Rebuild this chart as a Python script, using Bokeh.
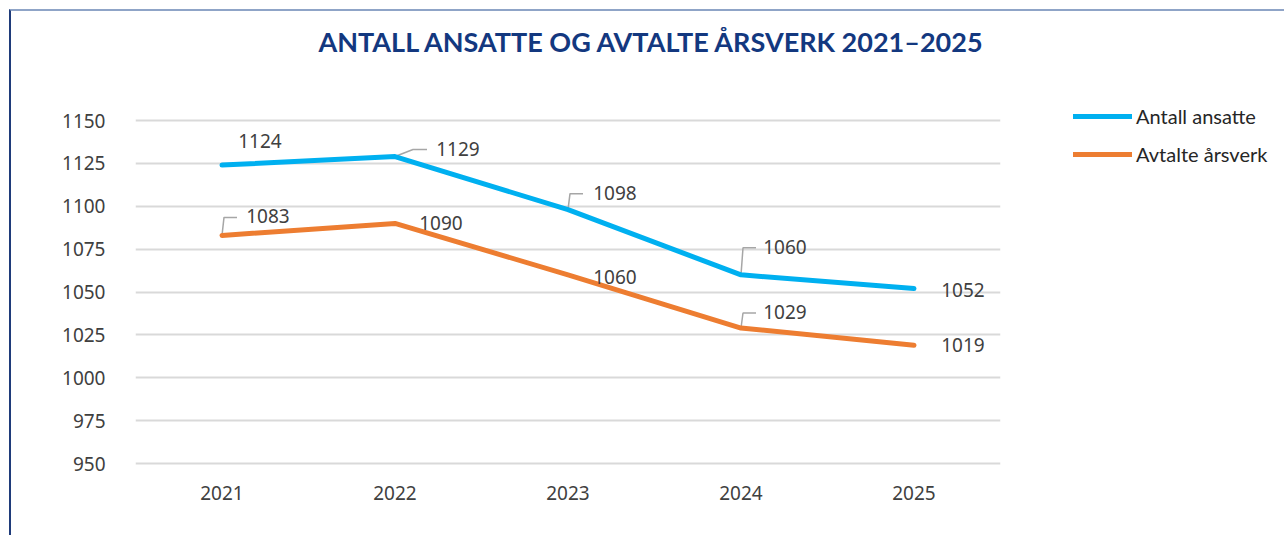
from bokeh.plotting import figure
from bokeh.models import (ColumnDataSource, FixedTicker, Range1d, Legend, LegendItem,
                          LabelSet, Title)
from bokeh.core.properties import value
from bokeh.embed import file_html
from bokeh.resources import INLINE

# ---- data ----
years = ["2021", "2022", "2023", "2024", "2025"]
ansatte = [1124, 1129, 1098, 1060, 1052]
arsverk = [1083, 1090, 1060, 1029, 1019]
y_ticks = [950, 975, 1000, 1025, 1050, 1075, 1100, 1125, 1150]

# label offsets (px) and leader flags (style, not data)
ans_dx = [38, 63, 47, 44, 49]
ans_dy = [24, 8, 17, 28, -1]
ans_lead = [False, True, True, True, False]
arb_dx = [46, 46, 47, 44, 49]
arb_dy = [19, 0, -2, 16, 0]
arb_lead = [True, False, False, True, False]

OFF = 11                      # page margin + border
Y0, Y1 = 950, 1150
PX_Y = 343 / (Y1 - Y0)
PAD = 4 / PX_Y
FL, FT, FW, FH = 135 - OFF, 116 - OFF, 865, 351
xs = list(range(len(years)))
PX_X = FW / 5.0

p = figure(frame_width=FW, frame_height=FH, output_backend="svg", toolbar_location=None,
           x_range=Range1d(-0.5, 4.5), y_range=Range1d(Y0 - PAD, Y1 + PAD),
           min_border_left=FL, min_border_top=FT,
           min_border_right=265, min_border_bottom=68)
p.styles = {"border-left": "2px solid #1f3b7a", "border-top": "2px solid #8fa4c7",
            "margin-left": "9px", "margin-top": "9px"}
p.outline_line_color = None
p.background_fill_color = "white"
p.border_fill_color = "white"

# spacer between frame and title
p.add_layout(Title(text=" ", text_font_size="1px", standoff=56), "above")

p.title.text = "ANTALL ANSATTE OG AVTALTE ÅRSVERK 2021–2025"
p.title.align = "left"
p.title.offset = 183
p.title.vertical_align = "bottom"
p.title.standoff = 0
p.title.text_font = "Lato"
p.title.text_font_style = "bold"
p.title.text_font_size = "27px"
p.title.text_color = "#13387f"

p.xgrid.grid_line_color = None
p.ygrid.grid_line_color = "#d9d9d9"
p.ygrid.grid_line_width = 2
p.yaxis.ticker = FixedTicker(ticks=y_ticks)
p.xaxis.ticker = FixedTicker(ticks=xs)
p.xaxis.major_label_overrides = {i: y for i, y in enumerate(years)}
for ax in (p.xaxis[0], p.yaxis[0]):
    ax.axis_line_color = None
    ax.major_tick_line_color = None
    ax.minor_tick_line_color = None
    ax.major_label_text_font = "Noto Sans"
    ax.major_label_text_font_size = "19px"
    ax.major_label_text_color = "#404040"
p.yaxis.major_label_standoff = 24
p.xaxis.major_label_standoff = 12

blue = "#00b0f0"
orange = "#ed7d31"

def leaders(vals, dy, flags, diag):
    out_x, out_y = [], []
    for i, (v, b, f) in enumerate(zip(vals, dy, flags)):
        if not f:
            continue
        if diag[i]:
            pts = [(0, 0), (18, 7), (32, 7)]
        else:
            pts = [(0, 0), (2, b - 1), (15, b - 1)]
        out_x.append([xs[i] + px / PX_X for px, _ in pts])
        out_y.append([v + py / PX_Y for _, py in pts])
    return out_x, out_y

lx, ly = leaders(ansatte, ans_dy, ans_lead, [False, True, False, False, False])
lx2, ly2 = leaders(arsverk, arb_dy, arb_lead, [False] * 5)
p.multi_line(lx + lx2, ly + ly2, line_color="#a6a6a6", line_width=1.5)

r1 = p.line(xs, ansatte, line_color=blue, line_width=5, line_cap="round", line_join="round")
r2 = p.line(xs, arsverk, line_color=orange, line_width=5, line_cap="round", line_join="round")

for vals, dx, dy in ((ansatte, ans_dx, ans_dy), (arsverk, arb_dx, arb_dy)):
    src = ColumnDataSource(dict(x=xs, y=vals, t=[str(v) for v in vals], dx=dx, dy=dy))
    ls = LabelSet(x="x", y="y", text="t", x_offset="dx", y_offset="dy", source=src,
                  text_align="center", text_baseline="middle",
                  text_font=value("Noto Sans"), text_font_size="19px", text_color="#404040")
    p.add_layout(ls)

legend = Legend(items=[LegendItem(label="Antall ansatte", renderers=[r1]),
                       LegendItem(label="Avtalte årsverk", renderers=[r2])],
                location=(73, 301), glyph_width=59, glyph_height=20, spacing=14,
                label_standoff=4, padding=0, margin=0, border_line_color=None,
                background_fill_alpha=0, label_text_font="Lato",
                label_text_font_size="20px", label_text_color="#262626",
                label_height=20)
p.add_layout(legend, "right")

open("out.html", "w").write(file_html(p, INLINE))
